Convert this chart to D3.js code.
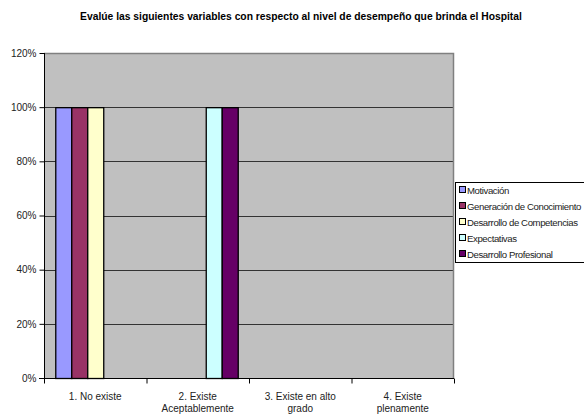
<!DOCTYPE html>
<html><head><meta charset="utf-8">
<script src="https://cdn.jsdelivr.net/npm/d3@7"></script>
<style>body{margin:0;background:#fff}svg{display:block}text{font-family:"Liberation Sans",Arial,sans-serif}</style>
</head><body>
<script>
const categories = [["1. No existe"], ["2. Existe", "Aceptablemente"], ["3. Existe en alto", "grado"], ["4. Existe", "plenamente"]];
const seriesNames = ["Motivación", "Generación de Conocimiento", "Desarrollo de Competencias", "Expectativas", "Desarrollo Profesional"];
const seriesColors = ["#9999FF", "#993366", "#FFFFCC", "#CCFFFF", "#660066"];
const values = [
  [1, 0, 0, 0],
  [1, 0, 0, 0],
  [1, 0, 0, 0],
  [0, 1, 0, 0],
  [0, 1, 0, 0]
];
const yTicks = [0, 0.2, 0.4, 0.6, 0.8, 1.0, 1.2];
const title = "Evalúe las siguientes variables con respecto al nivel de desempeño que brinda el Hospital";

const W = 584, H = 414;
const m = {left: 44, right: 454, top: 53, bottom: 378};
const svg = d3.select("body").append("svg").attr("width", W).attr("height", H);

const x0 = d3.scaleBand().domain(d3.range(categories.length)).range([m.left, m.right]).paddingInner(0.22).paddingOuter(0.11);
const x1 = d3.scaleBand().domain(d3.range(seriesNames.length)).range([0, x0.bandwidth()]);
const y = d3.scaleLinear().domain([0, 1.2]).range([m.bottom, m.top]);

svg.append("rect").attr("x", m.left).attr("y", m.top).attr("width", m.right - m.left).attr("height", m.bottom - m.top).attr("fill", "#C0C0C0");

// gridlines
svg.append("g").selectAll("line").data(yTicks.filter(d => d > 0 && d < 1.2)).join("line")
  .attr("x1", m.left).attr("x2", m.right).attr("y1", d => Math.round(y(d)) + 0.5).attr("y2", d => Math.round(y(d)) + 0.5)
  .attr("stroke", "#333").attr("stroke-width", 1);
// top and right border
svg.append("path").attr("d", `M${m.left},${m.top + 0.5}H${m.right - 0.5}V${m.bottom}`).attr("fill", "none").attr("stroke", "#808080").attr("stroke-width", 1.5);

// bars
seriesNames.forEach((s, si) => {
  svg.append("g").selectAll("rect").data(values[si].map((v, ci) => ({v, ci}))).join("rect")
    .filter(d => d.v > 0)
    .attr("x", d => x0(d.ci) + x1(si) + 0.5)
    .attr("y", d => y(d.v) + 0.5)
    .attr("width", x1.bandwidth())
    .attr("height", d => y(0) - y(d.v))
    .attr("fill", seriesColors[si]).attr("stroke", "#000").attr("stroke-width", 1.3);
});

// y axis
const yAxis = d3.axisLeft(y).tickValues(yTicks).tickFormat(d3.format(".0%")).tickSize(5).tickPadding(3);
const gy = svg.append("g").attr("transform", `translate(${m.left + 0.5},0)`).call(yAxis);
gy.select(".domain").attr("stroke", "#000").attr("d", `M0,${m.top}V${m.bottom}`);
gy.selectAll("text").attr("font-size", "10px").attr("fill", "#222");

// x axis
const gx = svg.append("g").attr("transform", `translate(0,${m.bottom + 0.5})`);
gx.append("line").attr("x1", m.left - 5).attr("x2", m.right).attr("stroke", "#000");
const step = x0.step();
gx.selectAll("line.t").data(d3.range(categories.length + 1)).join("line").attr("class", "t")
  .attr("x1", d => m.left + d * step + 0.5).attr("x2", d => m.left + d * step + 0.5).attr("y1", 0).attr("y2", 5).attr("stroke", "#000");
gx.selectAll("text").data(categories).join("text")
  .attr("text-anchor", "middle").attr("font-size", "10px").attr("fill", "#222")
  .attr("transform", (d, i) => `translate(${x0(i) + x0.bandwidth() / 2},0)`)
  .selectAll("tspan").data(d => d).join("tspan").attr("x", 0).attr("y", (d, i) => 21 + i * 12).text(d => d);

// title
svg.append("text").attr("x", 301).attr("y", 20).attr("text-anchor", "middle").attr("font-size", "10.3px").attr("font-weight", "bold").attr("fill", "#000").text(title);

// legend
const lg = svg.append("g");
lg.append("rect").attr("x", 455.5).attr("y", 182.5).attr("width", 140).attr("height", 80).attr("fill", "#fff").attr("stroke", "#000");
const li = lg.selectAll("g").data(seriesNames).join("g").attr("transform", (d, i) => `translate(459,${190 + i * 16})`);
li.append("rect").attr("x", 0.5).attr("y", -3.5).attr("width", 6).attr("height", 6).attr("fill", (d, i) => seriesColors[i]).attr("stroke", "#000");
li.append("text").attr("x", 8).attr("y", 3.5).attr("font-size", "9.6px").attr("letter-spacing", "-0.4px").attr("fill", "#222").text(d => d);
</script>
</body></html>
